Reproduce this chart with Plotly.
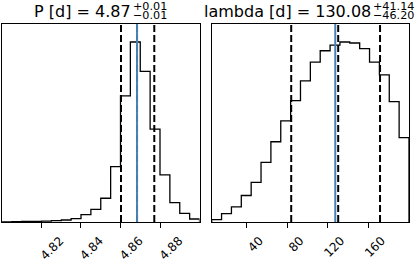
import numpy as np
import plotly.graph_objects as go

# ---------------- data ----------------
P_range = [4.8003, 4.8999]
P_counts = [1, 3, 5, 7, 9, 13, 20, 33, 73, 127, 237, 553, 1260, 1797, 1503, 927, 470, 193, 87, 30]
P_quantiles = [4.8603, 4.8684, 4.8771]
P_truth = 4.8684
P_ticks = [4.82, 4.84, 4.86, 4.88]
P_ticklabels = ["4.82", "4.84", "4.86", "4.88"]

lam_range = [5.7, 199.7]
lam_counts = [24, 84, 150, 264, 394, 594, 800, 1007, 1210, 1407, 1594, 1707, 1762, 1794, 1784, 1727, 1594, 1467, 1200, 840]
lam_quantiles = [83.88, 130.08, 171.22]
lam_truth = 127.2
lam_ticks = [40, 80, 120, 160]
lam_ticklabels = ["40", "80", "120", "160"]

titles_main = ["P [d] = 4.87", "lambda [d] = 130.08"]
titles_sup = ["+0.01", "+41.14"]
titles_sub = ["\u22120.01", "\u221246.20"]

# ---------------- figure ----------------
W, H = 419, 266
ML, MR, MT, MB = 2, 10, 24, 44
PW, PH = W - ML - MR, H - MT - MB
FONT = "DejaVu Sans"
BLUE = "#4682b4"


def px_x(px):
    return (px - ML) / PW


def px_y(py):
    return (H - MB - py) / PH


fig = go.Figure()

panels = [
    (P_range, P_counts, P_quantiles, P_truth, "x", "y"),
    (lam_range, lam_counts, lam_quantiles, lam_truth, "x2", "y2"),
]

for rng, counts, qs, truth, xa, ya in panels:
    edges = np.linspace(rng[0], rng[1], len(counts) + 1)
    xs = [edges[0]] + list(edges) + [edges[-1]]
    ys = [0] + list(counts) + [counts[-1], 0]
    fig.add_trace(go.Scatter(x=xs, y=ys, mode="lines", line=dict(color="black", width=1.3, shape="hv"),
                             xaxis=xa, yaxis=ya, showlegend=False, hoverinfo="skip"))
    for q in qs:
        fig.add_trace(go.Scatter(x=[q, q], y=[0, max(counts) * 1.1], mode="lines",
                                 line=dict(color="black", width=2, dash="7px,3px"),
                                 xaxis=xa, yaxis=ya, showlegend=False, hoverinfo="skip"))
    fig.add_trace(go.Scatter(x=[truth, truth], y=[0, max(counts) * 1.1], mode="lines",
                             line=dict(color=BLUE, width=2),
                             xaxis=xa, yaxis=ya, showlegend=False, hoverinfo="skip"))

axis_common = dict(showline=True, linecolor="black", linewidth=1, mirror=True, showgrid=False,
                   zeroline=False, ticks="outside", ticklen=5, tickwidth=1, tickcolor="black",
                   tickfont=dict(family=FONT, size=12, color="black"), tickangle=-45, automargin=False,
                   ticklabelstandoff=1)
yaxis_common = dict(domain=[0, 1], showticklabels=False, ticks="", showline=True, linecolor="black",
                    linewidth=1, mirror=True, showgrid=False, zeroline=False, automargin=False)

fig.update_layout(
    width=W, height=H,
    margin=dict(l=ML, r=MR, t=MT, b=MB, pad=0),
    plot_bgcolor="white", paper_bgcolor="white",
    xaxis=dict(domain=[0, px_x(199.5)], range=P_range, tickvals=P_ticks, ticktext=P_ticklabels,
               ticklabelshift=19, **axis_common),
    yaxis=dict(range=[0, max(P_counts) * 1.1], anchor="x", **yaxis_common),
    xaxis2=dict(domain=[px_x(211.7), 1], range=lam_range, tickvals=lam_ticks, ticktext=lam_ticklabels,
                ticklabelshift=13, anchor="y2", **axis_common),
    yaxis2=dict(range=[0, max(lam_counts) * 1.1], anchor="x2", **yaxis_common),
)

split_px = [132.0, 372.0]
for i in range(2):
    fig.add_annotation(text=titles_main[i], xref="paper", yref="paper", x=px_x(split_px[i]), y=px_y(11.2),
                       xanchor="right", yanchor="middle", showarrow=False, borderpad=0,
                       font=dict(family=FONT, size=16, color="black"))
    fig.add_annotation(text=titles_sup[i], xref="paper", yref="paper", x=px_x(split_px[i]), y=px_y(6.0),
                       xanchor="left", yanchor="middle", showarrow=False, borderpad=0,
                       font=dict(family=FONT, size=11.2, color="black"))
    fig.add_annotation(text=titles_sub[i], xref="paper", yref="paper", x=px_x(split_px[i]), y=px_y(16.0),
                       xanchor="left", yanchor="middle", showarrow=False, borderpad=0,
                       font=dict(family=FONT, size=11.2, color="black"))

fig.write_html("out.html", config={"displayModeBar": False},
               post_script="document.body.style.margin='0';document.body.style.overflow='hidden';")
